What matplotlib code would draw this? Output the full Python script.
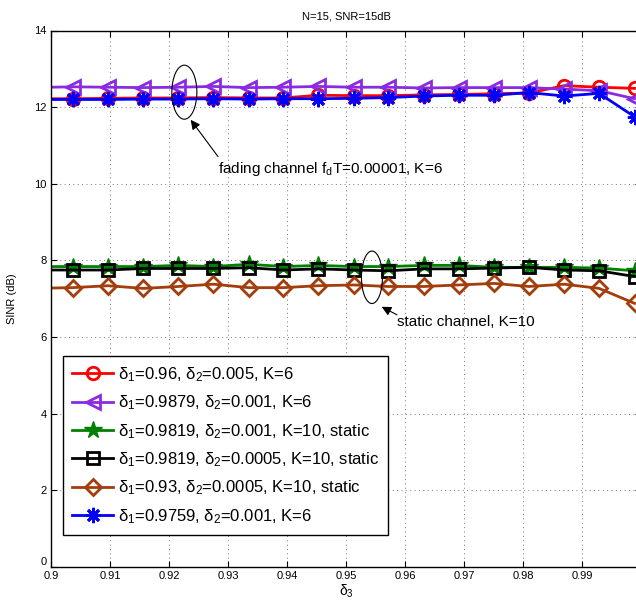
import matplotlib
matplotlib.use("Agg")
import matplotlib.pyplot as plt
from matplotlib.patches import Ellipse

plt.rcParams['font.family'] = ['Liberation Sans', 'DejaVu Sans']
plt.rcParams['mathtext.fontset'] = 'custom'
plt.rcParams['mathtext.rm'] = 'Liberation Sans'
plt.rcParams['mathtext.it'] = 'Liberation Sans'
plt.rcParams['mathtext.bf'] = 'Liberation Sans'

# ---- data ----
delta3 = [0.9000, 0.9037, 0.9097, 0.9156, 0.9216, 0.9275, 0.9335, 0.9394, 0.9453,
          0.9513, 0.9572, 0.9632, 0.9691, 0.9751, 0.9810, 0.9870, 0.9929, 0.9989]

sinr_red = [12.22, 12.22, 12.23, 12.24, 12.24, 12.25, 12.24, 12.24, 12.31,
            12.30, 12.30, 12.32, 12.33, 12.35, 12.37, 12.56, 12.52, 12.49]
sinr_purple = [12.52, 12.53, 12.52, 12.51, 12.52, 12.54, 12.51, 12.52, 12.54,
               12.52, 12.52, 12.50, 12.51, 12.51, 12.51, 12.47, 12.43, 12.22]
sinr_green = [7.84, 7.84, 7.84, 7.84, 7.87, 7.84, 7.90, 7.84, 7.87,
              7.84, 7.84, 7.87, 7.87, 7.82, 7.82, 7.82, 7.80, 7.73]
sinr_black = [7.75, 7.75, 7.75, 7.79, 7.79, 7.79, 7.81, 7.75, 7.78,
              7.75, 7.73, 7.78, 7.78, 7.80, 7.82, 7.75, 7.73, 7.58]
sinr_brown = [7.28, 7.29, 7.34, 7.27, 7.32, 7.38, 7.29, 7.29, 7.34,
              7.36, 7.32, 7.32, 7.36, 7.40, 7.32, 7.38, 7.27, 6.88]
sinr_blue = [12.20, 12.20, 12.20, 12.21, 12.21, 12.22, 12.21, 12.22, 12.22,
             12.23, 12.25, 12.29, 12.31, 12.31, 12.38, 12.29, 12.36, 11.75]

labels = [
    "δ$_1$=0.96, δ$_2$=0.005, K=6",
    "δ$_1$=0.9879, δ$_2$=0.001, K=6",
    "δ$_1$=0.9819, δ$_2$=0.001, K=10, static",
    "δ$_1$=0.9819, δ$_2$=0.0005, K=10, static",
    "δ$_1$=0.93, δ$_2$=0.0005, K=10, static",
    "δ$_1$=0.9759, δ$_2$=0.001, K=6",
]

xticks = [0.90, 0.91, 0.92, 0.93, 0.94, 0.95, 0.96, 0.97, 0.98, 0.99]
xticklabels = ["0.9", "0.91", "0.92", "0.93", "0.94", "0.95", "0.96", "0.97", "0.98", "0.99"]
yticks = [0, 2, 4, 6, 8, 10, 12, 14]

fig = plt.figure(figsize=(6.36, 6.02), dpi=100)
ax = fig.add_axes([51/636, 35/602, 590/636, 536.5/602])

lw = 2.0
me = slice(1, None)
ax.plot(delta3, sinr_red, color='#ff0000', lw=lw, marker='o', ms=9, mfc='none',
        mew=2, markevery=me, label=labels[0])
ax.plot(delta3, sinr_purple, color='#8a2be2', lw=lw, marker='<', ms=10, mfc='none',
        mew=2, markevery=me, label=labels[1])
ax.plot(delta3, sinr_green, color='#008000', lw=lw, marker='*', ms=13, mfc='#008000',
        mew=1, markevery=me, label=labels[2])
ax.plot(delta3, sinr_black, color='k', lw=lw, marker='s', ms=8, mfc='none',
        mew=2, markevery=me, label=labels[3])
ax.plot(delta3, sinr_brown, color='#a33d0c', lw=lw, marker='D', ms=8, mfc='none',
        mew=2, markevery=me, label=labels[4])
ax.plot(delta3, sinr_blue, color='#0000ff', lw=lw, marker=(8, 2, 0), ms=11,
        mew=2, markevery=me, label=labels[5])

ax.set_xlim(0.9, 1.0)
ax.set_ylim(0, 14)
ax.set_xticks(xticks)
ax.set_xticklabels(xticklabels)
ax.set_yticks(yticks)
ax.tick_params(direction='in', top=True, right=True, labelsize=8, length=4,
               width=0.8, pad=3)
for s in ax.spines.values():
    s.set_linewidth(1.0)
ax.grid(True, linestyle=(0, (1, 3.5)), color='#777777', linewidth=0.7)
ax.set_axisbelow(True)
ax.yaxis.get_major_ticks()[0].label1.set_verticalalignment('bottom')

ax.set_title("N=15, SNR=15dB", fontsize=8, pad=8)
ax.set_xlabel("δ$_3$", fontsize=10, labelpad=1)
ax.set_ylabel("SINR (dB)", fontsize=8)
ax.yaxis.set_label_coords(-0.058, 0.5)

# annotations
ax.add_patch(Ellipse((0.9226, 12.39), 0.00424, 1.41, fill=False, ec='k', lw=0.8, zorder=5))
ax.add_patch(Ellipse((0.9544, 7.56), 0.00356, 1.37, fill=False, ec='k', lw=0.8, zorder=5))
ax.annotate("", xy=(0.92368, 11.67), xytext=(0.92831, 10.71),
            arrowprops=dict(arrowstyle='-|>', color='k', lw=0.8, mutation_scale=14,
                            shrinkA=0, shrinkB=0))
ax.text(0.92825, 10.28, "fading channel f$_d$T=0.00001, K=6", fontsize=11,
        ha='left', va='baseline')
ax.annotate("", xy=(0.95605, 6.79), xytext=(0.95864, 6.58),
            arrowprops=dict(arrowstyle='-|>', color='k', lw=0.8, mutation_scale=14,
                            shrinkA=0, shrinkB=0))
ax.text(0.95864, 6.28, "static channel, K=10", fontsize=11, ha='left', va='baseline')

leg = ax.legend(loc='upper left', bbox_to_anchor=(12/590, (567-356)/536.5),
                borderaxespad=0, fontsize=12, handlelength=2.45, labelspacing=0.58,
                handletextpad=0.3, borderpad=0.55, fancybox=False, framealpha=1,
                edgecolor='k')
leg.get_frame().set_linewidth(1.0)

fig.savefig("out.png", dpi=100)
